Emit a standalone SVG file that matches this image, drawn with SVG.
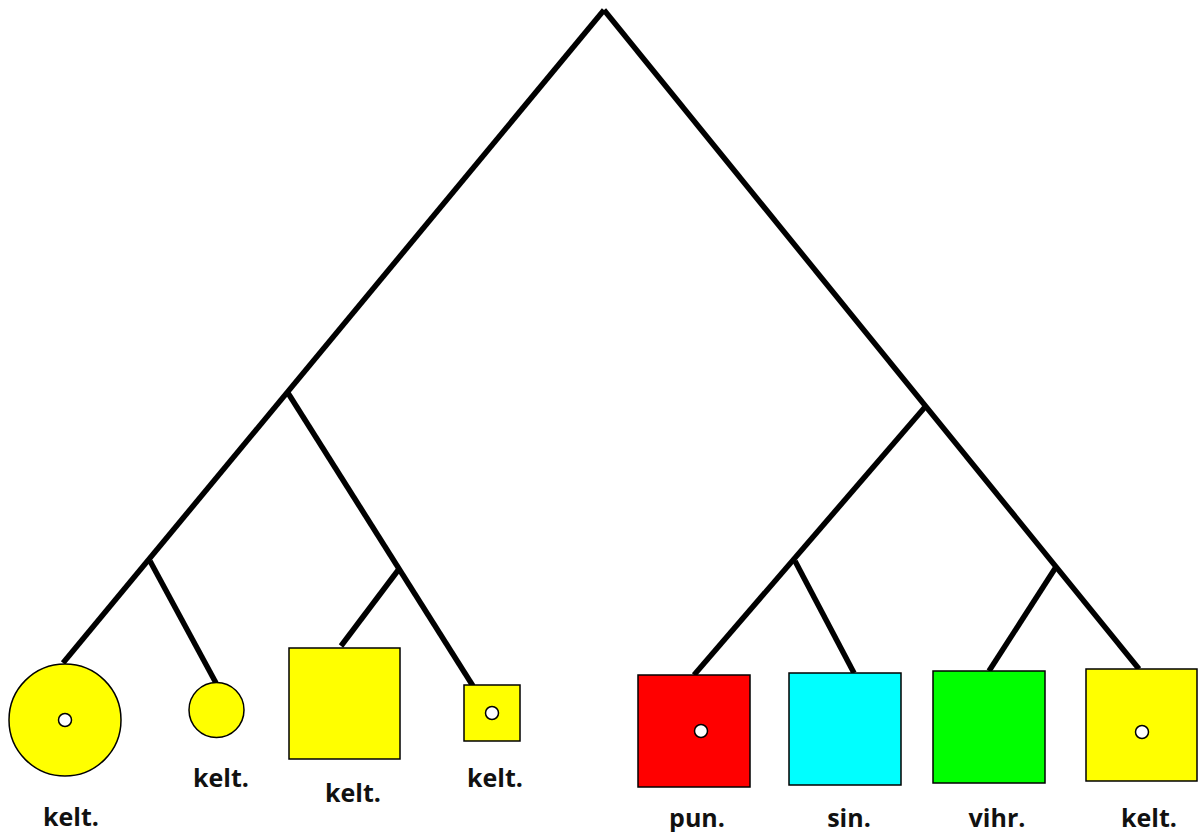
<svg xmlns="http://www.w3.org/2000/svg" width="1198" height="832" viewBox="0 0 1198 832">
  <style>
    .edge { stroke: #000; stroke-width: 5.5; fill: none; stroke-linecap: butt; }
    .shape { stroke: #000; stroke-width: 1.5; }
    .yellow { fill: #ffff00; }
    .red { fill: #ff0000; }
    .cyan { fill: #00ffff; }
    .green { fill: #00ff00; }
    .hole { fill: #fff; stroke: #000; stroke-width: 1.5; }
    .label { font-family: "Open Sans", "Liberation Sans", sans-serif; font-weight: bold; font-size: 25px; fill: #111; text-anchor: middle; }
  </style>
  <rect width="1198" height="832" fill="#fff"/>

  <!-- tree branches -->
  <g id="connectors">
    <line class="edge" x1="604" y1="10" x2="63" y2="663"/>
    <line class="edge" x1="604" y1="10" x2="1139" y2="669"/>
    <line class="edge" x1="288" y1="393" x2="473" y2="686"/>
    <line class="edge" x1="150" y1="561" x2="216" y2="683"/>
    <line class="edge" x1="399" y1="569" x2="341" y2="646"/>
    <line class="edge" x1="925" y1="407" x2="694" y2="675"/>
    <line class="edge" x1="795" y1="561" x2="854" y2="673"/>
    <line class="edge" x1="1056" y1="567" x2="989" y2="671"/>
  </g>

  <g id="leaf1">
    <circle class="shape yellow" cx="65" cy="720" r="56"/>
    <circle class="hole" cx="65" cy="720" r="6.5"/>
    <text class="label" x="71" y="826">kelt.</text>
  </g>
  <g id="leaf2">
    <circle class="shape yellow" cx="216.5" cy="710" r="27.5"/>
    <text class="label" x="221" y="787">kelt.</text>
  </g>
  <g id="leaf3">
    <rect class="shape yellow" x="289" y="648" width="111" height="111"/>
    <text class="label" x="353" y="802">kelt.</text>
  </g>
  <g id="leaf4">
    <rect class="shape yellow" x="464" y="685" width="56" height="56"/>
    <circle class="hole" cx="492" cy="713" r="6.5"/>
    <text class="label" x="495" y="787">kelt.</text>
  </g>
  <g id="leaf5">
    <rect class="shape red" x="638" y="675" width="112" height="112"/>
    <circle class="hole" cx="701" cy="731" r="6.5"/>
    <text class="label" x="697" y="827">pun.</text>
  </g>
  <g id="leaf6">
    <rect class="shape cyan" x="789" y="673" width="112" height="112"/>
    <text class="label" x="849" y="827">sin.</text>
  </g>
  <g id="leaf7">
    <rect class="shape green" x="933" y="671" width="112" height="112"/>
    <text class="label" x="997" y="827">vihr.</text>
  </g>
  <g id="leaf8">
    <rect class="shape yellow" x="1086" y="669" width="111" height="112"/>
    <circle class="hole" cx="1142" cy="732" r="6.5"/>
    <text class="label" x="1149" y="827">kelt.</text>
  </g>
</svg>
